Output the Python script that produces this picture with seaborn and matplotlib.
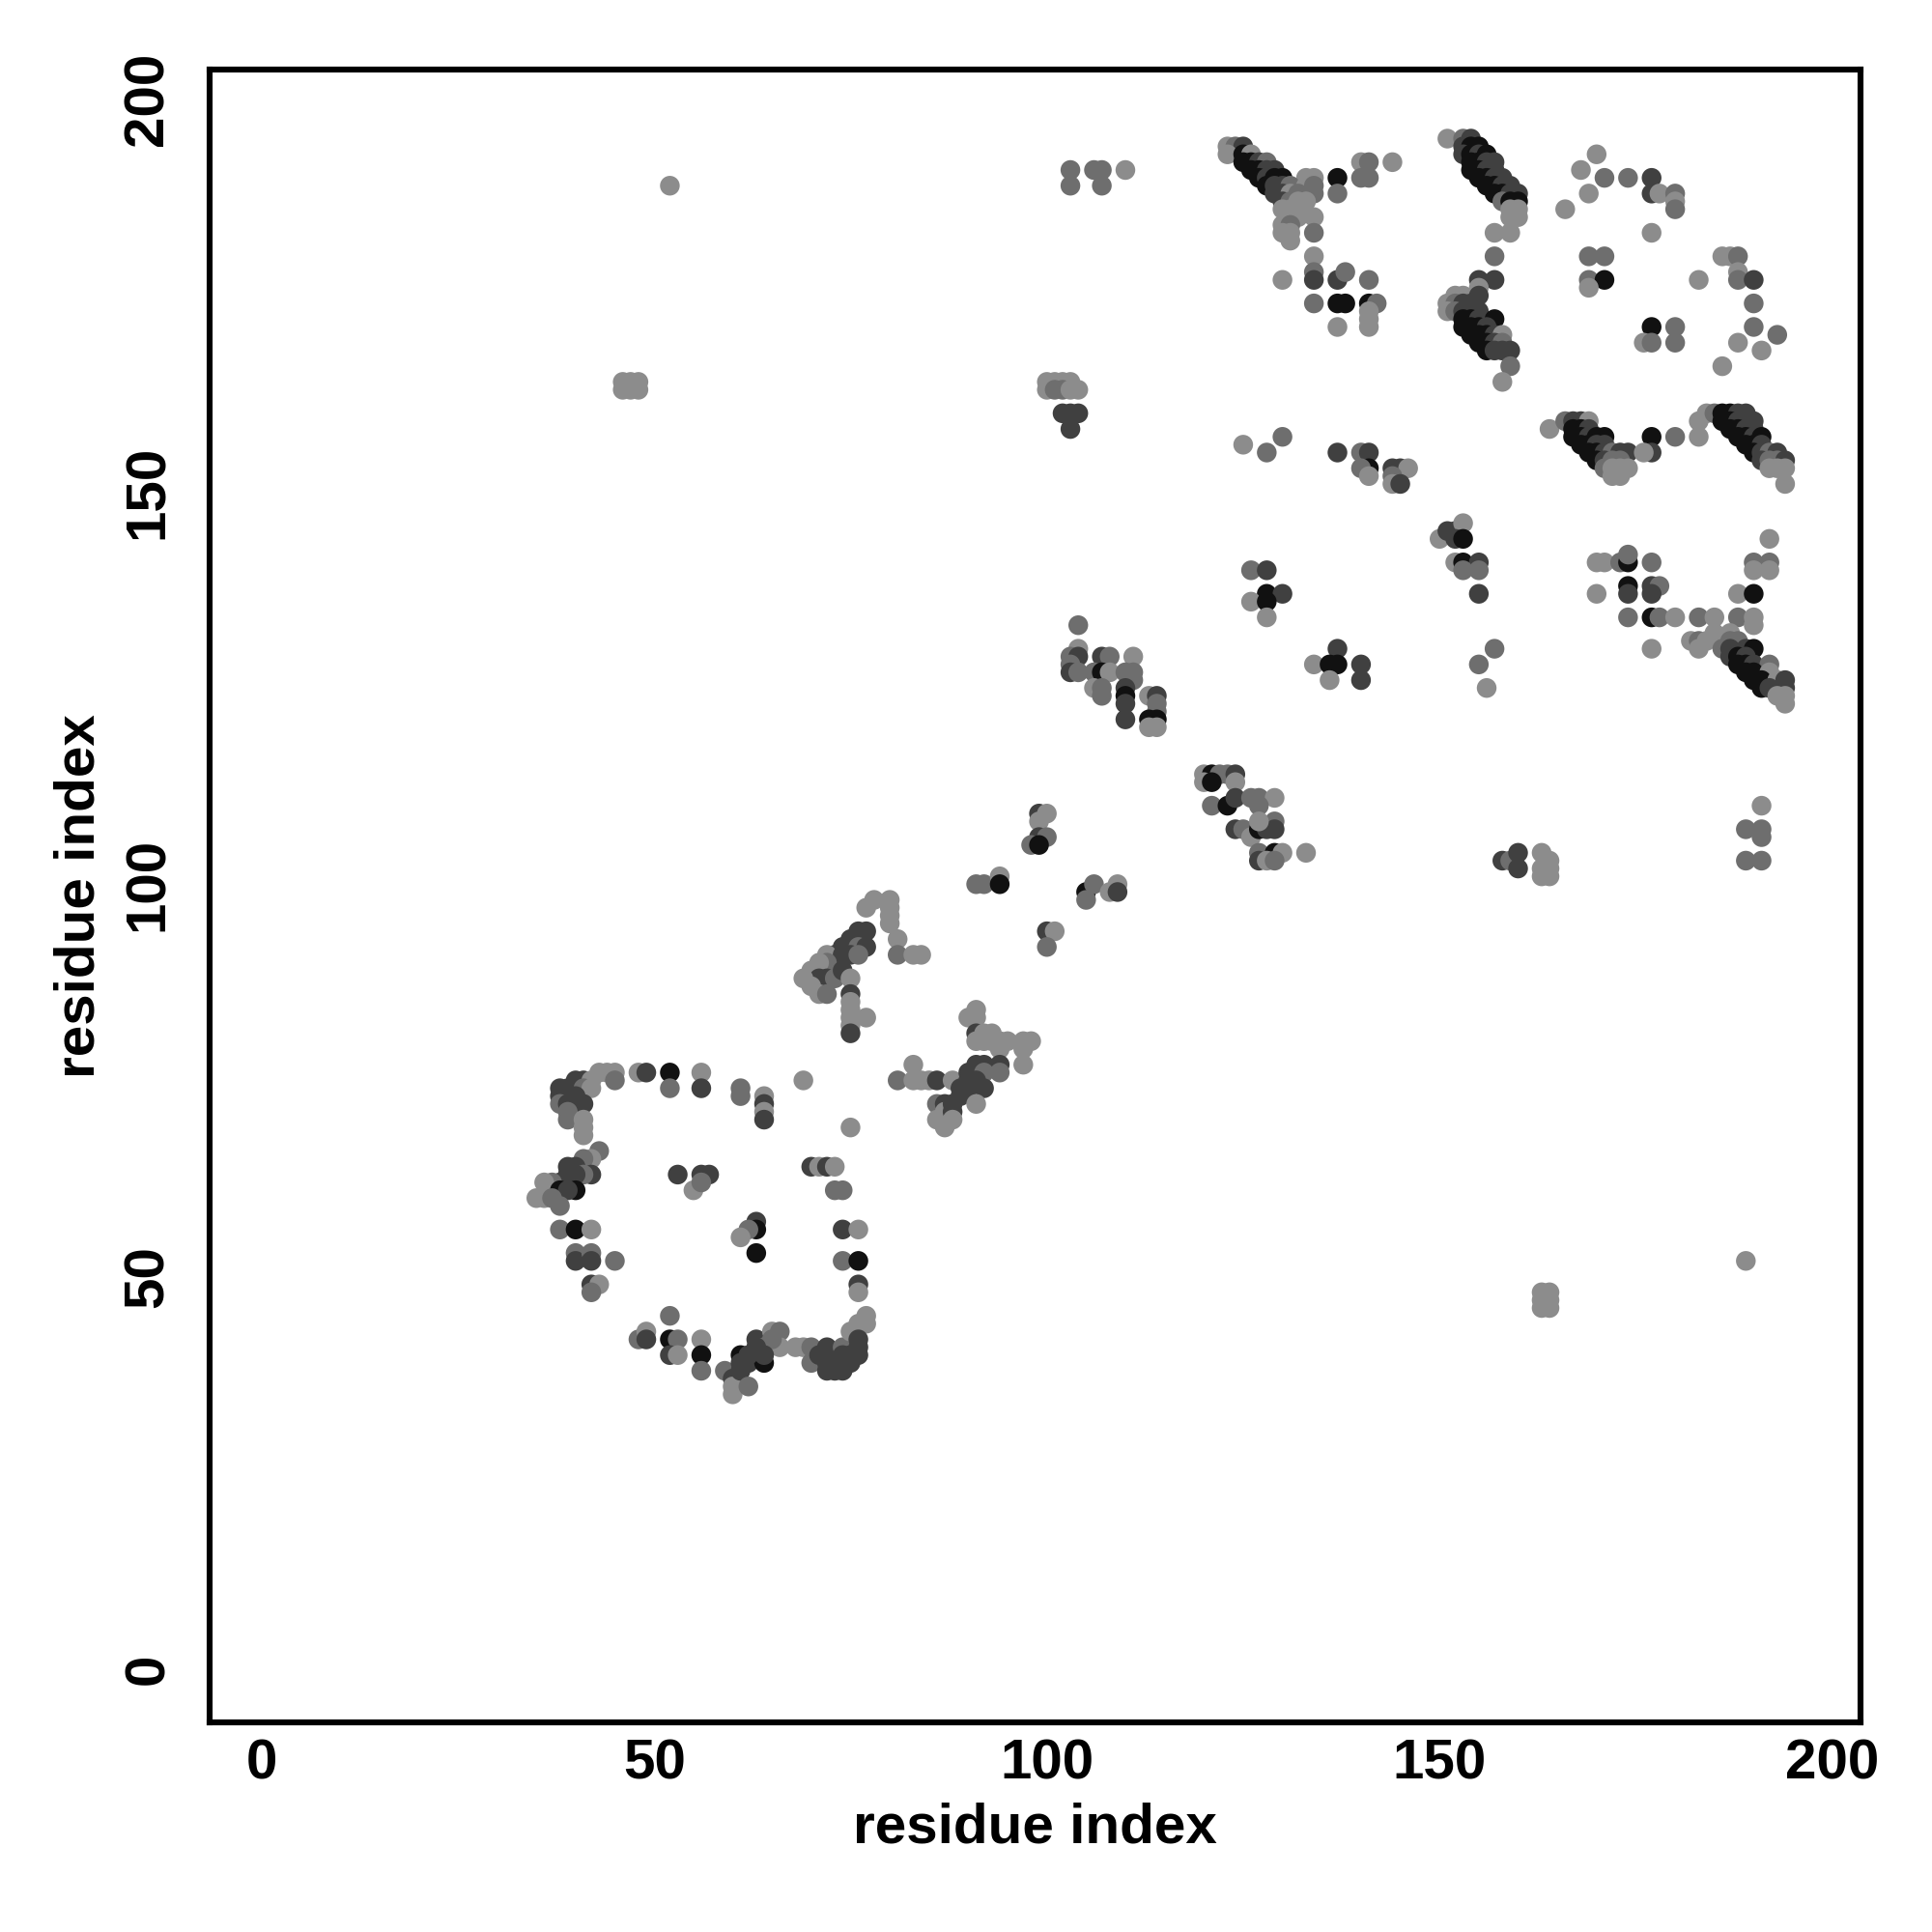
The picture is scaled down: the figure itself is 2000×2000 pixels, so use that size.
import matplotlib
matplotlib.use("Agg")
import matplotlib.pyplot as plt
import seaborn as sns
import pandas as pd

# ---- data: (residue i, residue j, shade level 0=light .. 3=black) ----
strays = [(52,189,0),(46,163,0),(47,163,0),(48,163,0),(46,164,0),(47,164,0),(48,164,0),
          (189,52,0),(163,46,0),(163,47,0),(163,48,0),(164,46,0),(164,47,0),(164,48,0)]

top_mid = [(103,191,1),(103,189,1),(106,191,1),(107,191,1),(107,189,1),(110,191,0),
           (100,164,0),(101,164,0),(102,164,0),(103,164,0),(100,163,0),(101,163,1),(102,163,1),
           (103,163,0),(104,163,0),(102,160,2),(103,160,2),(104,160,2),(103,158,2)]

band_a = [(123,194,0),(124,194,1),(125,194,2),(123,193,0),(125,193,3),(126,193,0),
          (125,192,3),(126,192,3),(127,192,2),(128,192,1),(126,191,3),(127,191,3),(128,191,2),(129,191,2),
          (127,190,3),(128,190,2),(129,190,3),(130,190,3),(133,190,0),(134,190,0),
          (128,189,3),(129,189,2),(130,189,2),(131,189,1),(133,189,0),(134,189,1),
          (129,188,2),(130,188,2),(131,188,0),(132,188,1),(134,188,1),
          (130,187,2),(131,187,1),(132,187,0),(133,187,0),(130,186,0),(131,186,0),(132,186,0),
          (131,185,0),(132,185,0),(134,185,0),(130,184,0),(131,184,1),(130,183,0),(131,183,0),(134,183,1),(131,182,0),
          (137,190,3),(137,188,1),(140,192,0),(141,192,1),(140,190,1),(141,190,1),(144,192,0),
          (134,180,0),(134,178,1),(134,177,2),(130,177,0),(137,177,2),(138,178,1),(137,174,3),(138,174,3),(134,174,1),
          (141,177,1),(141,174,3),(142,174,1),(141,173,0),(141,172,0),(141,171,0),(137,171,0),
          (125,156,0),(128,155,1),(130,157,1),(137,155,2),(140,155,1),(141,155,2),(141,153,3),(140,153,1),(141,152,0),
          (144,153,2),(145,153,2),(146,153,0),(144,152,1),(144,151,0),(145,151,2)]

band_b = [(151,195,0),(153,195,1),(154,195,2),(153,194,2),(154,194,3),(155,194,3),
          (153,193,2),(154,193,3),(155,193,2),(156,193,3),(154,192,3),(155,192,3),(156,192,2),(157,192,2),
          (154,191,3),(155,191,3),(156,191,2),(157,191,2),(155,190,3),(156,190,3),(157,190,2),(158,190,2),
          (156,189,3),(157,189,3),(158,189,2),(159,189,2),(157,188,3),(158,188,3),(159,188,2),(160,188,2),
          (158,187,1),(159,187,3),(160,187,3),(159,186,0),(160,186,0),(159,185,0),(160,185,0),
          (157,183,0),(159,183,0),(157,180,1),(155,177,2),(157,177,2),(155,176,0),
          (152,175,0),(153,175,0),(155,175,2),(151,174,0),(152,174,1),(153,174,2),(154,174,2),
          (151,173,0),(152,173,1),(153,173,2),(154,173,2),(155,173,2),(153,172,3),(154,172,3),(155,172,2),(157,172,3),
          (153,171,3),(154,171,3),(155,171,3),(156,171,2),(154,170,3),(155,170,3),(156,170,3),(157,170,2),(158,170,0),
          (155,169,3),(156,169,3),(157,169,2),(158,169,1),(156,168,3),(157,168,2),(158,168,2),(159,168,2),
          (159,166,1),(158,164,0)]

right_top = [(170,193,0),(168,191,0),(171,190,1),(174,190,1),(177,190,2),(169,188,0),(177,188,2),(178,188,0),
             (180,188,1),(180,187,0),(180,186,1),(166,186,0),(177,183,0),
             (169,180,1),(171,180,1),(169,177,1),(171,177,3),(169,176,0),
             (177,171,3),(180,171,1),(176,169,0),(177,169,1),(180,169,1),
             (186,180,0),(187,180,0),(188,180,1),(188,178,0),(188,177,1),(190,177,2),(183,177,0),
             (190,174,1),(190,171,1),(193,170,1),(188,169,0),(191,168,0),(186,166,0)]

band_c = [(164,158,0),(166,159,1),(167,159,2),(168,159,2),(169,159,0),(167,158,3),(168,158,3),(169,158,2),
          (167,157,3),(168,157,3),(169,157,2),(170,157,3),(171,157,3),(168,156,3),(169,156,3),(170,156,2),(171,156,2),
          (169,155,3),(170,155,3),(171,155,2),(172,155,1),(173,155,2),(174,155,2),
          (170,154,3),(171,154,2),(172,154,1),(173,154,1),(171,153,1),(172,153,0),(173,153,0),(174,153,0),
          (172,152,0),(173,152,0),(177,157,3),(177,155,2),(176,155,0),(180,157,1),(183,157,0),(183,159,0)]

band_d = [(184,160,0),(185,160,1),(186,160,3),(187,160,3),(188,160,2),(189,160,2),
          (186,159,3),(187,159,3),(188,159,2),(189,159,2),(190,159,2),(187,158,3),(188,158,3),(189,158,2),(190,158,2),
          (188,157,3),(189,157,3),(190,157,2),(191,157,3),(189,156,3),(190,156,3),(191,156,2),
          (190,155,3),(191,155,2),(192,155,1),(193,155,2),(191,154,2),(192,154,1),(193,154,1),(194,154,2),
          (192,153,0),(193,153,0),(194,153,0),(194,151,0)]

mid_right = [(150,144,0),(151,145,2),(152,145,2),(153,146,0),(152,144,2),(153,144,3),
             (152,141,0),(153,141,3),(155,141,2),(153,140,1),(155,140,1),(155,137,2),
             (157,130,1),(155,128,1),(156,125,0),
             (170,141,0),(171,141,0),(173,141,1),(174,141,3),(174,142,1),(177,141,1),
             (170,137,0),(174,138,3),(174,137,2),(177,138,2),(178,138,1),(177,137,2),
             (174,134,1),(177,134,3),(178,134,1),(180,134,0),(177,130,0),
             (190,141,1),(192,141,1),(190,140,0),(192,140,0),(192,144,0),(188,137,0),(190,137,3)]

band_e = [(183,134,1),(185,134,0),(188,134,1),(190,134,0),(190,133,0),(185,132,0),(187,132,0),
          (182,131,0),(183,131,1),(184,131,0),(187,131,1),(188,131,1),
          (183,130,0),(186,130,1),(187,130,2),(189,130,2),(190,130,3),
          (187,129,2),(188,129,3),(189,129,2),(188,128,3),(189,128,3),(190,128,2),(192,128,1),
          (189,127,3),(190,127,3),(192,127,0),(190,126,3),(191,126,3),(193,126,0),(194,126,2),
          (191,125,3),(192,125,2),(194,125,2),(193,124,0),(194,124,0),(194,123,0),
          (191,110,0),(189,107,1),(191,107,1),(191,106,1),(189,103,1),(191,103,1),
          (158,103,2),(159,103,1),(160,104,2),(160,102,2),(163,104,0),(164,103,0),(163,102,0),(164,102,0),(163,101,0),(164,101,0)]

mid = [(126,140,1),(128,140,2),(128,137,3),(130,137,2),(126,136,0),(128,136,3),(128,134,0),
       (137,130,2),(134,128,0),(136,128,3),(137,128,3),(140,128,2),(136,126,0),(140,126,2),
       (104,133,1),(104,130,0),(103,129,1),(104,129,2),(103,128,1),(103,127,2),(104,127,1),(107,129,2),(108,129,1),
       (111,129,0),(106,127,1),(107,127,3),(108,127,0),(106,125,0),(107,125,1),(107,124,1),(110,127,1),(111,127,1),
       (111,126,1),(110,125,2),(110,124,3),(110,123,2),(110,121,2),(113,124,0),(114,124,2),(114,123,1),(114,122,1),
       (113,121,3),(114,121,3),(113,120,0),(114,120,0),
       (120,114,0),(121,114,3),(122,114,1),(123,114,1),(124,114,2),(120,113,0),(121,113,3),(124,113,0),
       (121,110,1),(123,110,3),(124,111,2),(126,111,1),(127,111,1),(129,111,0),(127,110,1),
       (124,107,2),(125,107,1),(126,106,0),(127,107,3),(128,107,2),(129,108,1),(129,107,2),(127,108,0),
       (127,104,1),(129,104,3),(130,104,0),(133,104,0),(127,103,2),(128,103,0),(129,103,1),
       (99,109,2),(100,109,0),(99,108,0),(99,106,2),(100,106,1),(98,105,1),(99,105,3),
       (91,100,1),(92,100,1),(94,101,0),(94,100,3),
       (105,99,3),(106,100,1),(105,98,1),(108,99,0),(109,100,0),(109,99,2),
       (100,94,2),(101,94,0),(100,92,1)]

cluster_f = [(77,97,0),(78,98,0),(80,98,0),(80,97,0),(80,96,0),(80,95,0),(77,94,2),(76,94,2),(76,93,2),(75,93,2),
             (74,92,2),(75,92,2),(76,92,1),(77,92,2),(73,91,2),(72,91,0),(74,91,2),(75,91,2),(76,91,1),
             (81,93,0),(81,91,1),(83,91,0),(84,91,0),(72,90,1),(71,90,0),(70,89,0),(71,88,2),(72,88,2),(73,88,1),
             (69,88,0),(70,87,0),(71,86,0),(72,86,1),(74,89,2),(75,88,0),(75,86,2),(75,85,0),(75,84,0),(75,83,0),
             (75,82,0),(75,81,2),(77,83,0),
             (81,75,1),(83,77,0),(83,75,0),(84,75,0),(85,75,0),(86,75,2),(88,75,0),
             (86,72,1),(87,72,2),(87,71,0),(86,70,0),(87,69,0),
             (91,84,0),(90,83,0),(91,83,0),(91,81,2),(92,81,0),(93,81,0),(91,80,0),(92,80,0),(93,80,0),(94,80,0),
             (95,80,0),(94,79,0),(97,80,0),(98,80,0),(97,79,0),(97,77,0),
             (91,77,2),(92,77,2),(94,77,2),(90,76,2),(91,76,2),(92,76,1),(94,76,1),(90,75,2),(91,75,2),
             (92,74,2),(90,74,2),(89,74,2),(89,73,2),(91,72,0),(88,72,2),(88,71,2),(88,70,0)]

ring = [(40,75,2),(41,75,2),(43,76,0),(44,76,0),(45,76,0),(45,75,1),(42,75,0),
        (38,74,2),(39,74,2),(40,74,2),(41,74,1),(42,74,0),(38,73,2),(39,73,2),(40,73,2),(41,72,2),(38,72,1),
        (39,72,2),(39,71,1),(39,70,1),(41,70,0),(41,69,0),(41,68,0),
        (48,76,0),(49,76,2),(52,76,3),(52,74,1),(56,76,0),(56,74,2),
        (61,74,1),(61,73,1),(64,73,0),(64,72,2),(64,71,0),(64,70,2),(69,75,0),(75,69,0),
        (43,66,1),(42,65,0),(41,65,1),(40,64,2),(39,64,2),(42,63,2),(41,63,1),(40,63,2),(39,63,2),
        (38,62,2),(37,62,1),(36,62,0),(38,61,3),(40,61,3),(39,61,2),(35,60,0),(36,60,0),(37,60,1),(38,59,1),
        (53,63,2),(56,63,2),(57,63,2),(55,61,0),(56,62,1),
        (70,64,2),(71,64,0),(72,64,2),(73,64,0),(73,61,1),(74,61,1),
        (38,56,1),(40,56,3),(42,56,0),(40,53,1),(40,52,2),(42,53,1),(42,52,2),(45,52,1),
        (42,49,2),(43,49,0),(42,48,1),
        (63,57,2),(63,56,3),(62,56,1),(61,55,0),(63,53,3),
        (74,56,2),(76,56,0),(74,52,1),(76,52,3),(76,49,2),(76,48,0),
        (52,45,1),(48,42,1),(49,43,0),(49,42,2),(52,42,3),(53,42,1),(52,40,2),(53,40,0),
        (56,42,0),(56,40,3),(56,38,1),
        (59,38,1),(60,37,2),(60,36,0),(60,35,0),(61,40,3),(61,38,2),(62,39,2),(62,36,1),(63,42,2),(63,40,2),
        (64,39,3),(64,41,1),(65,43,0),(66,43,1),(66,41,0),(65,42,1),(63,41,2),(62,40,2),(61,39,2),(64,40,2),
        (68,41,0),(69,41,0),(70,41,1),(70,39,1),(72,41,2),(72,39,2),(73,40,2),(73,38,2),(74,38,2),(74,41,1),
        (75,43,0),(76,44,0),(77,45,0),(76,41,2),(76,40,2),(77,44,0),(71,40,2),(72,38,2),(73,39,2),(75,40,2),
        (74,40,2),(75,39,2),(76,42,2)]

shade_colors = {0: "#8c8c8c", 1: "#6e6e6e", 2: "#404040", 3: "#111111"}
tick_values = [0, 50, 100, 150, 200]
axis_label = "residue index"

groups = [strays, top_mid, band_a, band_b, right_top, band_c, band_d, mid_right, band_e, mid, cluster_f, ring]
rows = [p for g in groups for p in g]
df = pd.DataFrame(rows, columns=["i", "j", "shade"])

sns.set_style("white")
plt.rcParams["font.family"] = ["Liberation Sans", "DejaVu Sans"]
plt.rcParams["font.weight"] = "bold"
plt.rcParams["text.color"] = "black"
plt.rcParams["axes.labelcolor"] = "black"
plt.rcParams["xtick.color"] = "black"
plt.rcParams["ytick.color"] = "black"

fig = plt.figure(figsize=(10, 10), dpi=200)
ax = fig.add_axes([0.1085, 0.1085, 0.8545, 0.8555])

sns.scatterplot(data=df, x="i", y="j", hue="shade", palette=shade_colors,
                s=54, linewidth=0, legend=False, ax=ax)

ax.set_xlim(-6.6, 203.6)
ax.set_ylim(-6.8, 203.8)
ax.set_xticks(tick_values)
ax.set_yticks(tick_values)
ax.set_xticklabels([str(v) for v in tick_values], fontsize=21, fontweight="bold", color="black")
ax.set_yticklabels([str(v) for v in tick_values], fontsize=21, fontweight="bold", color="black",
                   rotation=90, va="center")
ax.tick_params(axis="both", direction="out", length=4, width=1, color="black")
ax.tick_params(axis="x", pad=2)
ax.tick_params(axis="y", pad=9)

for sp in ax.spines.values():
    sp.set_visible(True)
    sp.set_color("black")
    sp.set_linewidth(2.2)

ax.set_xlabel(axis_label, fontsize=21, fontweight="bold", color="black")
ax.set_ylabel(axis_label, fontsize=21, fontweight="bold", color="black")
ax.xaxis.set_label_coords(0.5, -0.048)
ax.yaxis.set_label_coords(-0.063, 0.5)

fig.savefig("out.png", dpi=200, facecolor="white")
